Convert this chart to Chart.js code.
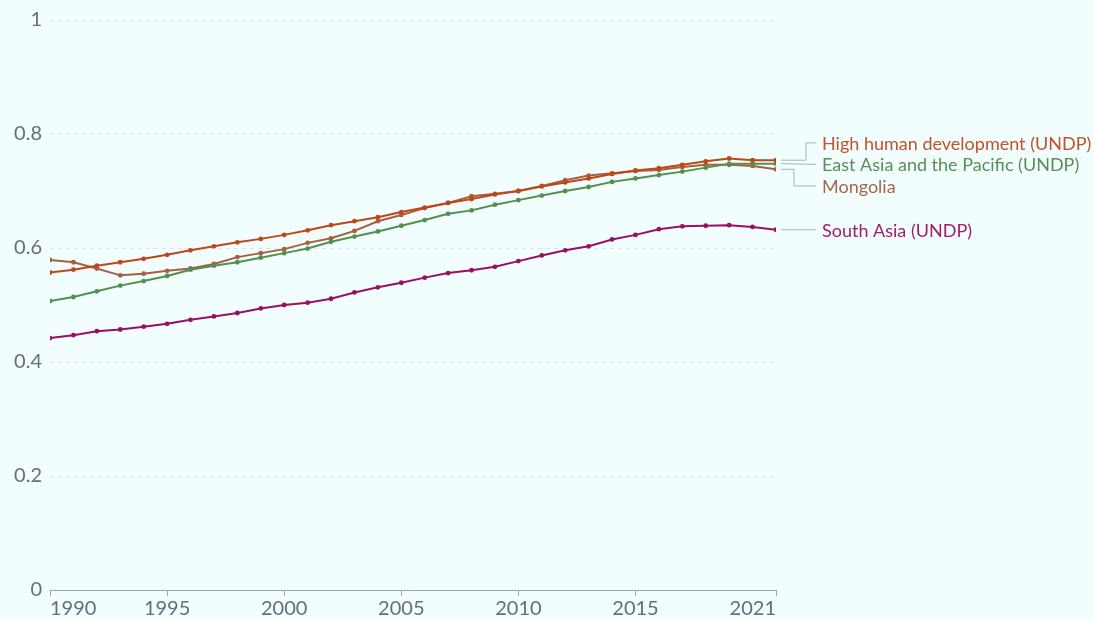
<!DOCTYPE html>
<html>
<head>
<meta charset="utf-8">
<script src="https://cdn.jsdelivr.net/npm/chart.js@4.4.1/dist/chart.umd.min.js"></script>
<style>
  html, body { margin: 0; padding: 0; background: #f2fdfd; }
  #wrap { width: 1094px; height: 620px; position: relative; }
</style>
</head>
<body>
<div id="wrap"><canvas id="chart"></canvas></div>
<script>
// ---------- DATA ----------
const years = [];
for (let y = 1990; y <= 2021; y++) years.push(y);

const highHuman = [0.557, 0.562, 0.569, 0.575, 0.581, 0.588, 0.596, 0.603, 0.610, 0.616,
  0.623, 0.631, 0.640, 0.647, 0.654, 0.663, 0.671, 0.679, 0.686, 0.694,
  0.700, 0.708, 0.715, 0.722, 0.730, 0.736, 0.740, 0.746, 0.752, 0.757,
  0.754, 0.754];
const eastAsia = [0.507, 0.514, 0.524, 0.534, 0.542, 0.551, 0.562, 0.569, 0.575, 0.583,
  0.591, 0.599, 0.611, 0.620, 0.629, 0.639, 0.649, 0.660, 0.666, 0.676,
  0.684, 0.692, 0.700, 0.707, 0.716, 0.722, 0.728, 0.734, 0.741, 0.748,
  0.748, 0.748];
const mongolia = [0.579, 0.575, 0.564, 0.552, 0.555, 0.560, 0.564, 0.572, 0.584, 0.591,
  0.598, 0.609, 0.617, 0.630, 0.647, 0.658, 0.670, 0.679, 0.691, 0.695,
  0.700, 0.709, 0.719, 0.727, 0.731, 0.735, 0.737, 0.742, 0.746, 0.746,
  0.744, 0.738];
const southAsia = [0.442, 0.447, 0.454, 0.457, 0.462, 0.467, 0.474, 0.480, 0.486, 0.494,
  0.500, 0.504, 0.511, 0.522, 0.531, 0.539, 0.548, 0.556, 0.561, 0.567,
  0.577, 0.587, 0.596, 0.603, 0.615, 0.623, 0.633, 0.638, 0.639, 0.640,
  0.637, 0.632];

const xTicks = [1990, 1995, 2000, 2005, 2010, 2015, 2021];
const yTicks = [0, 0.2, 0.4, 0.6, 0.8, 1];

const series = [
  { name: "High human development (UNDP)", values: highHuman, line: "#bf4616", text: "#c0532b" },
  { name: "East Asia and the Pacific (UNDP)", values: eastAsia, line: "#52904f", text: "#5b8d59" },
  { name: "Mongolia", values: mongolia, line: "#a65f3f", text: "#a8664a" },
  { name: "South Asia (UNDP)", values: southAsia, line: "#9b0f62", text: "#a11d6d" }
];

// ---------- RIGHT-SIDE LABELS ----------
const endLabels = {
  id: "endLabels",
  afterDatasetsDraw(chart) {
    const ctx = chart.ctx;
    const xs = chart.scales.x, ys = chart.scales.y;
    const lastX = xs.getPixelForValue(years[years.length - 1]);
    const items = series.map((s) => ({
      s, yData: ys.getPixelForValue(s.values[s.values.length - 1])
    }));
    // spread labels so they don't overlap
    items.sort((a, b) => a.yData - b.yData);
    const gap = 21.5;
    let groups = items.map((it) => ({ members: [it], top: it.yData }));
    let moved = true;
    while (moved) {
      moved = false;
      for (let i = 0; i < groups.length - 1; i++) {
        const g = groups[i], n = groups[i + 1];
        if (g.top + g.members.length * gap > n.top + 0.01) {
          const members = g.members.concat(n.members);
          const mean = members.reduce((a, m) => a + m.yData, 0) / members.length;
          groups.splice(i, 2, { members, top: mean - (members.length - 1) * gap / 2 });
          moved = true;
          break;
        }
      }
    }
    groups.forEach((g) => g.members.forEach((m, k) => { m.yLabel = g.top + k * gap; }));

    ctx.save();
    ctx.font = "18px Lato, 'Noto Sans', sans-serif";
    ctx.textBaseline = "middle";
    ctx.strokeStyle = "#a9b3bd";
    ctx.lineWidth = 1;
    const x0 = lastX + 5, textX = lastX + 46;
    items.forEach((it) => {
      const elbowX = it.yLabel < it.yData - 2 ? lastX + 30 : (it.yLabel > it.yData + 2 ? lastX + 18 : null);
      ctx.beginPath();
      ctx.moveTo(x0, it.yData);
      if (elbowX !== null) {
        ctx.lineTo(elbowX, it.yData);
        ctx.lineTo(elbowX, it.yLabel);
      }
      ctx.lineTo(textX - 6, it.yLabel);
      ctx.stroke();
      ctx.fillStyle = it.s.text;
      ctx.fillText(it.s.name, textX, it.yLabel + 1);
    });
    ctx.restore();
  }
};

const datasets = series.map((s) => ({
  label: s.name,
  data: years.map((y, i) => ({ x: y, y: s.values[i] })),
  borderColor: s.line,
  backgroundColor: s.line,
  borderWidth: 2,
  pointRadius: 2.4,
  pointBorderWidth: 0,
  tension: 0
}));

new Chart(document.getElementById("chart"), {
  type: "line",
  data: { datasets },
  options: {
    responsive: true,
    maintainAspectRatio: false,
    animation: false,
    layout: { padding: { top: 11, right: 318, bottom: 0, left: 0 } },
    plugins: { legend: { display: false }, tooltip: { enabled: false } },
    scales: {
      x: {
        type: "linear",
        min: 1990,
        max: 2021,
        afterBuildTicks: (scale) => { scale.ticks = xTicks.map((v) => ({ value: v })); },
        afterFit: (scale) => { scale.height = 30; },
        grid: { display: true, drawOnChartArea: false, drawTicks: true, tickLength: 6, color: "#9aa5b1" },
        border: { display: true, color: "#9aa5b1", width: 1 },
        ticks: {
          color: "#666e78",
          font: { family: "Lato", size: 20 },
          padding: 1,
          align: "inner",
          maxRotation: 0,
          autoSkip: false,
          callback: (v) => String(v)
        }
      },
      y: {
        min: 0,
        max: 1,
        afterBuildTicks: (scale) => { scale.ticks = yTicks.map((v) => ({ value: v })); },
        afterFit: (scale) => { scale.width = 50; },
        grid: { color: "#dce3ee", drawTicks: false, lineWidth: 1 },
        border: { display: false, dash: [4, 4] },
        ticks: {
          color: "#666e78",
          font: { family: "Lato", size: 20 },
          padding: 8,
          callback: (v) => String(v)
        }
      }
    }
  },
  plugins: [endLabels]
});
</script>
</body>
</html>
